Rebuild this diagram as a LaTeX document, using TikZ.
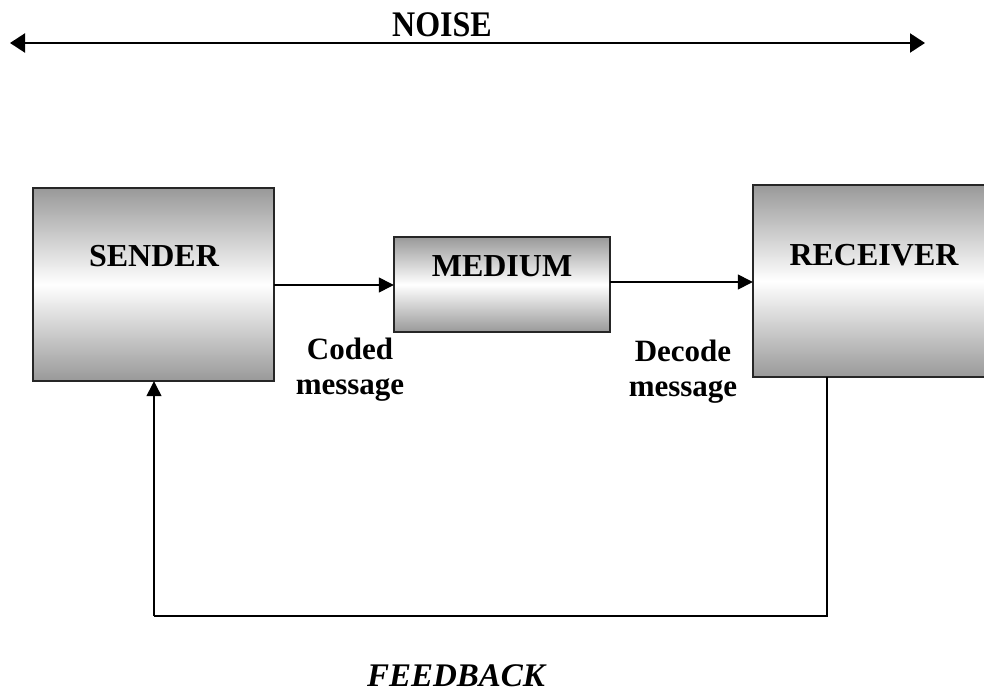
\documentclass[tikz,border=0pt]{standalone}
\usepackage{fontspec}
\setmainfont{Liberation Serif}
\newfontfamily\titlefont[FakeStretch=0.89]{Liberation Serif}
\usetikzlibrary{arrows.meta}
\begin{document}
\begin{tikzpicture}[x=1pt,y=-1pt,
  box/.style={draw=black!85,line width=1.6pt,top color=black!40,bottom color=black!40,middle color=white},
  lbl/.style={font=\fontsize{32}{28}\selectfont\bfseries,inner sep=0pt,align=center},
  sub/.style={font=\fontsize{31}{35}\selectfont\bfseries,inner sep=0pt,align=center},
  conn/.style={line width=1.3pt,-{Triangle[length=15pt,width=15pt]}},
  fb/.style={line width=1.3pt}]
\useasboundingbox (0,0) rectangle (984,695);
\begin{scope}
\clip (0,0) rectangle (984,695);
% boxes
\path[box] (33,188) rectangle (274,381);
\path[box] (394,237) rectangle (610,332);
\path[box] (753,185) rectangle (995,377);
\end{scope}
\node[inner sep=0pt,minimum width=241pt,minimum height=193pt] (sender) at (153.5,284.5) {};
\node[inner sep=0pt,minimum width=216pt,minimum height=95pt] (medium) at (502,284.5) {};
\node[inner sep=0pt,minimum width=242pt,minimum height=192pt] (receiver) at (874,281) {};
% labels
\node[lbl] (senderT) at (154,256.5) {SENDER};
\node[lbl] (mediumT) at (502,266.5) {MEDIUM};
\node[lbl] (receiverT) at (874,255) {RECEIVER};
\node[sub] (coded) at (350,370) {Coded\\message};
\node[sub] (decode) at (683,372) {Decode\\message};
% connectors
\draw[conn] (sender.east |- 0,285) -- (medium.west |- 0,285);
\draw[conn] (medium.east |- 0,282) -- (receiver.west |- 0,282);
\coordinate (fbR) at (827,616);
\coordinate (fbL) at (154,616);
\draw[fb] (receiver.south -| fbR) -- (fbR) -- (fbL);
\draw[conn] (fbL) -- (fbL |- sender.south);
% noise
\coordinate (nL) at (10,43);
\coordinate (nR) at (925,43);
\draw[line width=2.2pt,{Triangle[length=15pt,width=19pt]}-{Triangle[length=15pt,width=19pt]}] (nL) -- (nR);
\node[inner sep=0pt,anchor=base,font=\titlefont\fontsize{36}{36}\selectfont\bfseries] (noise) at (442,37) {NOISE};
\node[inner sep=0pt,anchor=base,font=\fontsize{33}{33}\selectfont\bfseries\itshape] (feedback) at (456,686) {FEEDBACK};
\end{tikzpicture}
\end{document}
